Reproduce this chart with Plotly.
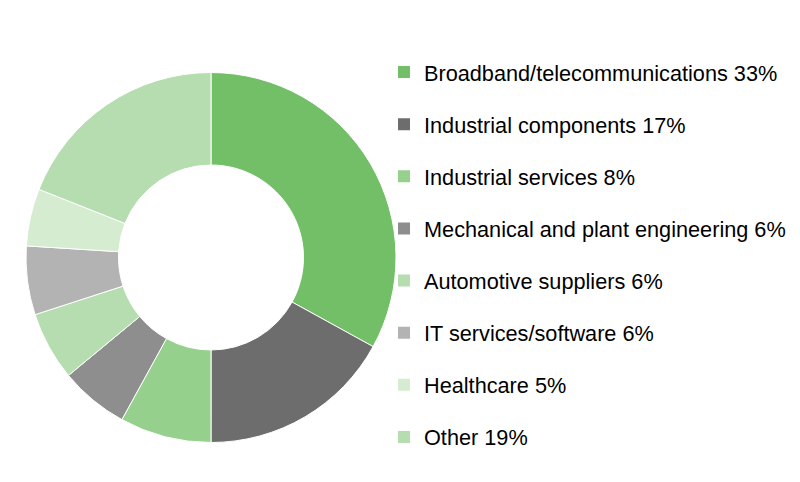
import plotly.graph_objects as go

categories = ["Broadband/telecommunications", "Industrial components", "Industrial services",
              "Mechanical and plant engineering", "Automotive suppliers", "IT services/software",
              "Healthcare", "Other"]
shares = [33, 17, 8, 6, 6, 6, 5, 19]
colors = ["#72BF67", "#6D6D6D", "#95D08C", "#8E8E8E", "#B5DDB0", "#B3B3B3", "#D5ECD1", "#B5DDB0"]

W, H = 800, 482
fig = go.Figure()
fig.add_trace(go.Pie(
    labels=categories, values=shares, sort=False, direction="clockwise", rotation=0,
    hole=0.5, textinfo="none", showlegend=False,
    marker=dict(colors=colors, line=dict(color="white", width=1)),
    domain=dict(x=[26 / W, 396 / W], y=[(H - 442.5) / H, (H - 72.5) / H]),
))
for cat, val, col in zip(categories, shares, colors):
    fig.add_trace(go.Scatter(
        x=[None], y=[None], mode="markers", name=f"{cat} {val}%", legendgroup=cat,
        marker=dict(symbol="square", size=12, color=col), showlegend=True,
    ))

fig.update_layout(
    width=W, height=H, margin=dict(l=0, r=0, t=0, b=0),
    paper_bgcolor="white", plot_bgcolor="white",
    xaxis=dict(visible=False), yaxis=dict(visible=False),
    font=dict(family="Liberation Sans, Arial, sans-serif", color="#000000"),
    legend=dict(x=384 / W, xanchor="left", y=1 - 51.5 / H, yanchor="top",
                font=dict(size=21.7, color="#000000"), tracegroupgap=20.9,
                bgcolor="rgba(0,0,0,0)", itemclick=False, itemdoubleclick=False),
)
fig.write_html("out.html", config={"displayModeBar": False},
               post_script="document.body.style.margin='0';")
